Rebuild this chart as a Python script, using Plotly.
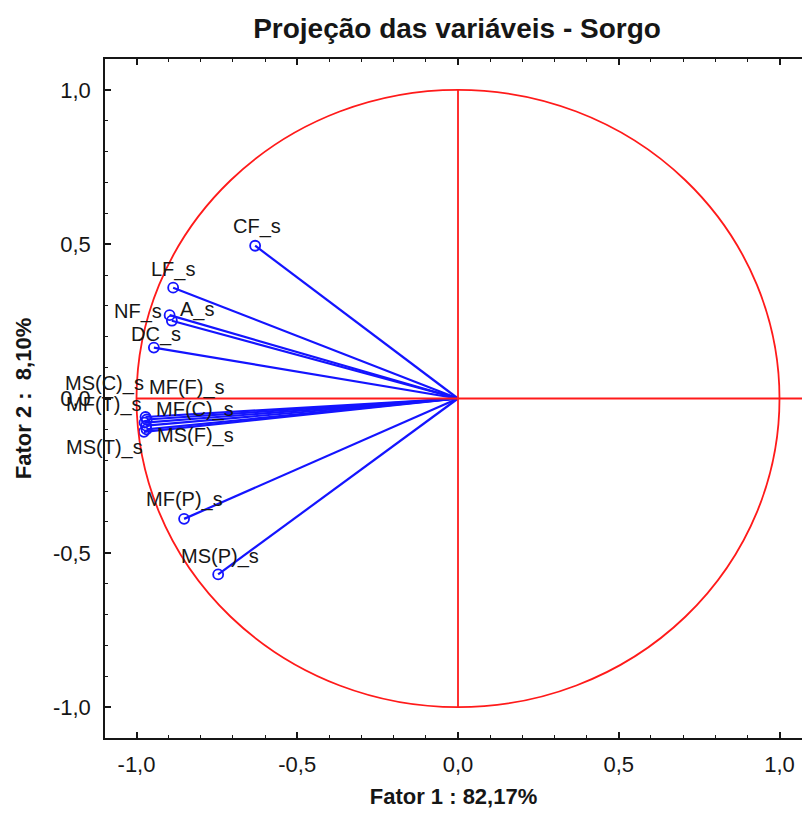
import plotly.graph_objects as go

# Variable loadings on the first two factors
variables = ["CF_s", "LF_s", "NF_s", "A_s", "DC_s",
             "MS(C)_s", "MF(F)_s", "MF(T)_s", "MF(C)_s", "MS(F)_s", "MS(T)_s",
             "MF(P)_s", "MS(P)_s"]
fator1 = [-0.631, -0.886, -0.897, -0.890, -0.946,
          -0.972, -0.968, -0.975, -0.970, -0.969, -0.977,
          -0.852, -0.746]
fator2 = [0.495, 0.359, 0.270, 0.252, 0.165,
          -0.060, -0.068, -0.078, -0.088, -0.100, -0.108,
          -0.390, -0.570]

tick_vals = [-1.0, -0.5, 0.0, 0.5, 1.0]
tick_text = ["-1,0", "-0,5", "0,0", "0,5", "1,0"]

# label offsets in pixels (right, up) from each point
label_shift = {
    "CF_s": (2, 19), "LF_s": (0, 18), "NF_s": (-32, 4), "A_s": (25, 11),
    "DC_s": (2, 13), "MS(C)_s": (-41, 34), "MF(F)_s": (40, 32),
    "MF(T)_s": (-41, 18), "MF(C)_s": (49, 16), "MS(F)_s": (49, -6),
    "MS(T)_s": (-39, -16), "MF(P)_s": (0, 19), "MS(P)_s": (2, 18),
}

FONT = "Liberation Sans, Arial, sans-serif"
BLUE = "#1414ff"
RED = "#ff1a1a"
INK = "#161616"

fig = go.Figure()

# vectors from the origin
lx, ly = [], []
for x, y in zip(fator1, fator2):
    lx += [0, x, None]
    ly += [0, y, None]
fig.add_trace(go.Scatter(x=lx, y=ly, mode="lines",
                         line=dict(color=BLUE, width=2.2), hoverinfo="skip"))
fig.add_trace(go.Scatter(x=fator1, y=fator2, mode="markers", text=variables,
                         marker=dict(symbol="circle-open", size=10,
                                     color=BLUE, line=dict(width=1.8, color=BLUE))))

# unit circle and reference axes
fig.add_shape(type="circle", x0=-1, y0=-1, x1=1, y1=1,
              line=dict(color=RED, width=1.8), layer="above")
fig.add_shape(type="line", x0=0, y0=-1, x1=0, y1=1,
              line=dict(color=RED, width=1.8), layer="above")
fig.add_shape(type="line", x0=-1, y0=0, x1=1.1, y1=0,
              line=dict(color=RED, width=1.8), layer="above")

for name, x, y in zip(variables, fator1, fator2):
    dx, dy = label_shift[name]
    fig.add_annotation(x=x, y=y, text=name, showarrow=False,
                       xshift=dx, yshift=dy,
                       font=dict(family=FONT, size=20, color=INK))

axis_common = dict(
    tickmode="array", tickvals=tick_vals, ticktext=tick_text,
    ticks="inside", ticklen=6, tickwidth=1.5, tickcolor=INK,
    showline=True, linecolor=INK, linewidth=1.6,
    showgrid=False, zeroline=False,
    tickfont=dict(family=FONT, size=22, color=INK),
    minor=dict(ticks="inside", ticklen=3, tickwidth=1, tickcolor=INK,
               tickmode="linear", tick0=0, dtick=0.1, showgrid=False),
)

fig.update_layout(
    width=802, height=813,
    margin=dict(l=105, r=0, t=59, b=75),
    plot_bgcolor="white", paper_bgcolor="white",
    showlegend=False,
    title=dict(text="<b>Projeção das variáveis - Sorgo</b>",
               x=457 / 802, xanchor="center", y=1 - 28 / 813, yanchor="middle",
               font=dict(family=FONT, size=28, color=INK)),
    xaxis=dict(range=[-1.098, 1.070], mirror="allticks", ticklabelstandoff=6,
               title=dict(text="<b>Fator 1 : 82,17%</b>", standoff=12,
                          font=dict(family=FONT, size=22, color=INK)),
               **axis_common),
    yaxis=dict(range=[-1.1, 1.1], mirror=False, ticklabelstandoff=8,
               title=dict(text="<b>Fator 2 :  8,10%</b>", standoff=15,
                          font=dict(family=FONT, size=22, color=INK)),
               **axis_common),
)

fig.write_html("out.html")
